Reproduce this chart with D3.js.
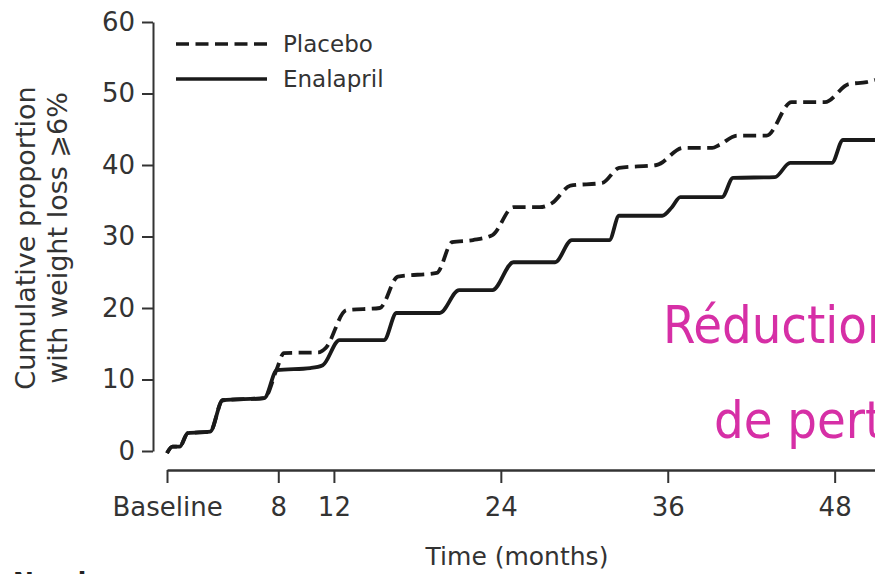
<!DOCTYPE html>
<html>
<head>
<meta charset="utf-8">
<script src="https://cdn.jsdelivr.net/npm/d3@7"></script>
<style>
  body { margin: 0; background: #fff; }
  text { font-family: "DejaVu Sans", sans-serif; fill: #333; }
</style>
</head>
<body>
<div id="plot"></div>
<script>
// chart size
const width = 875;
const height = 574;

// data (months, cumulative %)
const enalaprilMonths = [0, 0.4, 0.9, 1.5, 3.1, 4.0, 7.0, 7.9, 10.3, 11.2, 12.4, 15.6, 16.5, 19.6, 21.0, 23.4, 24.9, 27.9, 29.1, 31.8, 32.5, 35.6, 36.3, 36.9, 39.9, 40.7, 43.7, 44.8, 47.8, 48.6, 50.9];
const enalaprilValues = [-0.3, 0.6, 0.6, 2.5, 2.7, 7.1, 7.4, 11.3, 11.6, 12.0, 15.5, 15.5, 19.3, 19.3, 22.5, 22.5, 26.4, 26.4, 29.5, 29.5, 32.9, 32.9, 34.1, 35.5, 35.5, 38.2, 38.3, 40.3, 40.3, 43.5, 43.5];

const placeboMonths = [0, 0.4, 0.9, 1.5, 3.1, 4.0, 7.0, 7.9, 8.4, 10.9, 11.4, 12.9, 15.3, 16.6, 19.4, 20.5, 22.0, 23.4, 24.9, 26.8, 27.7, 29.0, 31.3, 32.5, 35.2, 37.1, 39.2, 39.7, 41.0, 43.1, 44.9, 47.3, 49.0, 50.3, 50.9];
const placeboValues = [-0.3, 0.6, 0.6, 2.5, 2.7, 7.1, 7.4, 11.5, 13.7, 13.8, 14.4, 19.7, 20.0, 24.4, 24.9, 29.2, 29.5, 30.2, 34.1, 34.1, 34.7, 37.1, 37.5, 39.6, 40.0, 42.4, 42.4, 42.8, 44.1, 44.1, 48.8, 48.8, 51.3, 51.6, 51.9];

const xTicks = [0, 8, 12, 24, 36, 48];
const yTicks = [0, 10, 20, 30, 40, 50, 60];
const seriesNames = ["Placebo", "Enalapril"];

const svg = d3.select("#plot").append("svg")
    .attr("width", width)
    .attr("height", height);

// scales
const x = d3.scaleLinear().domain([0, 50.9]).range([167, 875]);
const y = d3.scaleLinear().domain([0, 60]).range([451, 22]);

// y axis
const yAxis = svg.append("g")
    .attr("transform", "translate(153,0)")
    .call(d3.axisLeft(y).tickValues(yTicks).tickSize(11).tickPadding(7).tickSizeOuter(0));
yAxis.select(".domain").attr("stroke", "#333").attr("stroke-width", 2);
yAxis.selectAll(".tick line").attr("stroke", "#333").attr("stroke-width", 2);
yAxis.selectAll(".tick text")
    .style("font-size", "26px")
    .style("font-family", "DejaVu Sans")
    .attr("fill", "#333");

// x axis
const xAxis = svg.append("g")
    .attr("transform", "translate(0,470)")
    .call(d3.axisBottom(x).tickValues(xTicks).tickSize(13).tickSizeOuter(0)
        .tickFormat(d => d === 0 ? "Baseline" : d));
xAxis.select(".domain").attr("stroke", "#333").attr("stroke-width", 2.5);
xAxis.selectAll(".tick line").attr("stroke", "#333").attr("stroke-width", 2);
xAxis.selectAll(".tick text")
    .attr("y", 46)
    .attr("dy", 0)
    .style("font-size", "26px")
    .style("font-family", "DejaVu Sans")
    .attr("fill", "#333");

// axis titles
svg.append("text")
    .attr("x", 517)
    .attr("y", 565)
    .attr("text-anchor", "middle")
    .style("font-size", "25px")
    .text("Time (months)");

const yTitle = svg.append("text")
    .attr("transform", "translate(0,238) rotate(-90)")
    .attr("text-anchor", "middle")
    .style("font-size", "27px");
yTitle.append("tspan").attr("x", 0).attr("y", 35).text("Cumulative proportion");
yTitle.append("tspan").attr("x", 0).attr("y", 67).text("with weight loss \u2A7E6%");

// curves
const line = d3.line()
    .x(d => x(d[0]))
    .y(d => y(d[1]))
    .curve(d3.curveMonotoneX);

const placebo = d3.zip(placeboMonths, placeboValues);
const enalapril = d3.zip(enalaprilMonths, enalaprilValues);

svg.append("path")
    .datum(enalapril)
    .attr("d", line)
    .attr("fill", "none")
    .attr("stroke", "#1a1a1a")
    .attr("stroke-width", 3.8);

svg.append("path")
    .datum(placebo)
    .attr("d", line)
    .attr("fill", "none")
    .attr("stroke", "#1a1a1a")
    .attr("stroke-width", 3.8)
    .attr("stroke-dasharray", "13,6.5");

// legend
const legend = svg.append("g");
seriesNames.forEach(function(name, i) {
    const ly = 44 + i * 35;
    legend.append("line")
        .attr("x1", 176).attr("x2", 267)
        .attr("y1", ly).attr("y2", ly)
        .attr("stroke", "#1a1a1a")
        .attr("stroke-width", 3.5)
        .attr("stroke-dasharray", i === 0 ? "13,6.5" : null);
    legend.append("text")
        .attr("x", 283)
        .attr("y", ly + 8)
        .style("font-size", "23px")
        .text(name);
});

// overlay caption (cut by the right edge, as in the source)
svg.append("text")
    .attr("x", 663)
    .attr("y", 343)
    .style("font-family", "'DejaVu Sans Condensed', 'DejaVu Sans', sans-serif")
    .style("font-stretch", "condensed")
    .style("font-size", "52px")
    .style("fill", "#d62fa6")
    .text("Réduction");
svg.append("text")
    .attr("x", 714)
    .attr("y", 438)
    .style("font-family", "'DejaVu Sans Condensed', 'DejaVu Sans', sans-serif")
    .style("font-stretch", "condensed")
    .style("font-size", "52px")
    .style("fill", "#d62fa6")
    .text("de perte");

// risk table header, only its top shows
svg.append("text")
    .attr("x", 13)
    .attr("y", 590)
    .style("font-size", "25px")
    .style("font-weight", "bold")
    .style("fill", "#222")
    .text("Number");
</script>
</body>
</html>
